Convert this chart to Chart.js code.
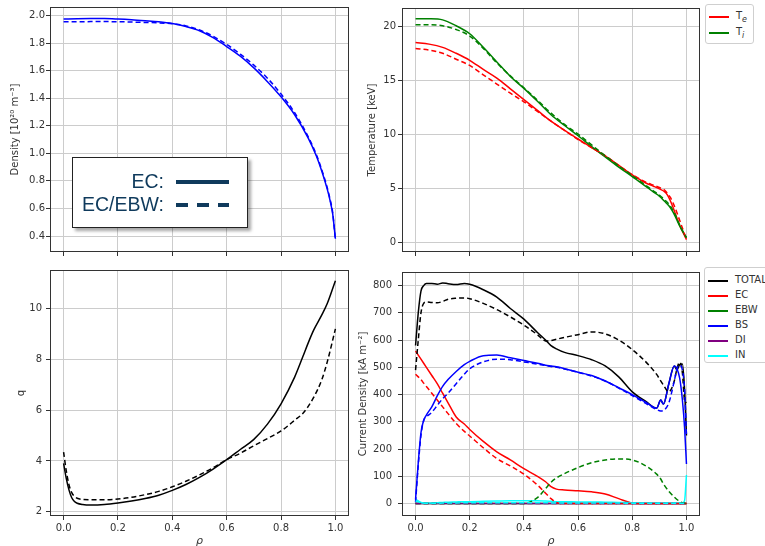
<!DOCTYPE html>
<html>
<head>
<meta charset="utf-8">
<script src="https://cdn.jsdelivr.net/npm/chart.js@4.4.1/dist/chart.umd.min.js"></script>
<style>
  html, body { margin: 0; padding: 0; background: #fff; overflow: hidden; width: 765px; height: 546px; }
  canvas { position: absolute; }
  .lg { position: absolute; background: #fff; border: 1px solid #cfcfcf; border-radius: 3px; font-family: "DejaVu Sans", sans-serif; font-size: 10px; color: #333; }
  .lg .row { position: absolute; left: 0; height: 12px; }
  .lg .sw { position: absolute; left: 3px; width: 20px; top: 5px; height: 0; border-top: 2px solid #000; }
  .lg .tx { position: absolute; left: 30px; top: -1px; white-space: nowrap; line-height: 12px; }
  #ecbox { position: absolute; left: 72px; top: 157px; width: 174px; height: 69px; background: #fff; border: 1.5px solid #222; box-shadow: 3px 3px 3px rgba(0,0,0,0.35); font-family: "Liberation Sans", Arial, sans-serif; font-size: 19.5px; color: #0f3a5c; }
  #ecbox .t { position: absolute; left: 0; width: 91px; text-align: right; line-height: 20px; }
  #ecbox .l { position: absolute; left: 103px; width: 53px; height: 3.5px; }
</style>
</head>
<body>
<canvas id="cTL" width="360" height="262" style="left:0px;top:0px"></canvas>
<canvas id="cTR" width="405" height="262" style="left:360px;top:0px"></canvas>
<canvas id="cBL" width="360" height="286" style="left:0px;top:260px"></canvas>
<canvas id="cBR" width="415" height="286" style="left:350px;top:260px"></canvas>

<div id="ecbox">
  <div class="t" style="top:13px">EC:</div>
  <div class="l" style="top:22px;background:#0f3a5c"></div>
  <div class="t" style="top:36px">EC/EBW:</div>
  <div class="l" style="top:45px;background:repeating-linear-gradient(to right,#0f3a5c 0px,#0f3a5c 11.5px,transparent 11.5px,transparent 21px)"></div>
</div>

<div class="lg" style="left:705px;top:4px;width:47px;height:38px">
  <div class="row" style="top:6px"><div class="sw" style="border-color:#ff0000"></div><div class="tx">T<sub style="font-size:8px"><i>e</i></sub></div></div>
  <div class="row" style="top:22px"><div class="sw" style="border-color:#008000"></div><div class="tx">T<sub style="font-size:8px"><i>i</i></sub></div></div>
</div>

<div class="lg" style="left:704px;top:267px;width:80px;height:94px">
  <div class="row" style="top:7px"><div class="sw" style="border-color:#000"></div><div class="tx">TOTAL</div></div>
  <div class="row" style="top:22px"><div class="sw" style="border-color:#ff0000"></div><div class="tx">EC</div></div>
  <div class="row" style="top:37px"><div class="sw" style="border-color:#008000"></div><div class="tx">EBW</div></div>
  <div class="row" style="top:52px"><div class="sw" style="border-color:#0000ff"></div><div class="tx">BS</div></div>
  <div class="row" style="top:67px"><div class="sw" style="border-color:#800080"></div><div class="tx">DI</div></div>
  <div class="row" style="top:82px"><div class="sw" style="border-color:#00ffff"></div><div class="tx">IN</div></div>
</div>

<script>
// ---------- tick labels ----------
const rhoTicks = [0.0, 0.2, 0.4, 0.6, 0.8, 1.0];
const densityTicks = [0.4, 0.6, 0.8, 1.0, 1.2, 1.4, 1.6, 1.8, 2.0];
const tempTicks = [0, 5, 10, 15, 20];
const qTicks = [2, 4, 6, 8, 10];
const currentTicks = [0, 100, 200, 300, 400, 500, 600, 700, 800];

// ---------- density ----------
const rhoN = [0, 0.05, 0.1, 0.15, 0.2, 0.25, 0.3, 0.35, 0.4, 0.45, 0.5, 0.55, 0.6, 0.65, 0.7, 0.75, 0.8, 0.85, 0.9, 0.93, 0.95, 0.97, 0.98, 0.99, 1.0];
const neEC  = [1.975, 1.977, 1.978, 1.978, 1.975, 1.970, 1.963, 1.955, 1.942, 1.920, 1.890, 1.840, 1.775, 1.705, 1.620, 1.520, 1.410, 1.280, 1.110, 0.980, 0.870, 0.740, 0.660, 0.560, 0.380];
const neEBW = [1.955, 1.955, 1.956, 1.956, 1.955, 1.953, 1.950, 1.947, 1.940, 1.925, 1.895, 1.850, 1.790, 1.720, 1.640, 1.545, 1.430, 1.295, 1.120, 0.990, 0.880, 0.750, 0.670, 0.570, 0.370];

// ---------- temperature ----------
const rhoT = [0, 0.05, 0.1, 0.15, 0.2, 0.25, 0.3, 0.35, 0.4, 0.45, 0.5, 0.55, 0.6, 0.65, 0.7, 0.75, 0.8, 0.85, 0.88, 0.9, 0.92, 0.93, 0.94, 0.95, 0.96, 0.97, 0.98, 0.99, 1.0];
const teEC  = [18.55, 18.40, 18.10, 17.55, 16.90, 16.05, 15.25, 14.25, 13.25, 12.25, 11.25, 10.40, 9.60, 8.80, 8.03, 7.15, 6.27, 5.52, 5.20, 4.97, 4.70, 4.40, 3.90, 3.30, 2.60, 1.90, 1.30, 0.80, 0.27];
const teEBW = [18.00, 17.85, 17.55, 17.00, 16.42, 15.55, 14.70, 13.85, 13.05, 12.15, 11.25, 10.40, 9.55, 8.80, 8.05, 7.15, 6.30, 5.60, 5.30, 5.10, 4.85, 4.55, 4.20, 3.70, 3.10, 2.40, 1.70, 1.00, 0.30];
const tiEC  = [20.76, 20.75, 20.65, 20.10, 19.36, 18.10, 16.75, 15.40, 14.30, 13.10, 11.85, 10.85, 9.90, 8.90, 7.94, 7.00, 6.12, 5.20, 4.65, 4.30, 3.80, 3.55, 3.25, 2.85, 2.35, 1.80, 1.30, 0.85, 0.45];
const tiEBW = [20.20, 20.20, 20.10, 19.75, 19.15, 18.00, 16.65, 15.45, 14.35, 13.20, 12.00, 10.95, 10.05, 9.05, 8.05, 7.10, 6.20, 5.30, 4.75, 4.40, 3.95, 3.70, 3.40, 3.00, 2.50, 1.90, 1.35, 0.90, 0.45];

// ---------- safety factor q ----------
const rhoQ = [0, 0.01, 0.02, 0.03, 0.04, 0.05, 0.07, 0.1, 0.15, 0.2, 0.25, 0.3, 0.35, 0.4, 0.45, 0.5, 0.55, 0.6, 0.65, 0.7, 0.75, 0.8, 0.85, 0.88, 0.9, 0.92, 0.95, 0.97, 1.0];
const qEC  = [3.90, 3.30, 2.85, 2.55, 2.40, 2.33, 2.28, 2.26, 2.28, 2.34, 2.42, 2.52, 2.65, 2.84, 3.07, 3.35, 3.68, 4.05, 4.45, 4.85, 5.45, 6.25, 7.30, 8.10, 8.65, 9.15, 9.75, 10.20, 11.10];
const qEBW = [4.35, 3.60, 3.05, 2.75, 2.60, 2.53, 2.48, 2.47, 2.47, 2.50, 2.57, 2.67, 2.80, 2.98, 3.20, 3.45, 3.73, 4.05, 4.30, 4.60, 4.88, 5.18, 5.60, 5.87, 6.15, 6.50, 7.20, 7.90, 9.20];

// ---------- current density ----------
const rhoJ = [0, 0.01, 0.02, 0.03, 0.04, 0.06, 0.08, 0.1, 0.12, 0.15, 0.18, 0.2, 0.25, 0.3, 0.35, 0.4, 0.45, 0.48, 0.5, 0.52, 0.55, 0.6, 0.65, 0.7, 0.75, 0.8, 0.85, 0.89, 0.905, 0.915, 0.935, 0.955, 0.965, 0.975, 0.985, 0.993, 1.0];
const totalEC  = [580, 700, 780, 800, 808, 808, 805, 810, 807, 804, 808, 805, 785, 758, 716, 677, 628, 600, 580, 568, 555, 543, 528, 505, 465, 410, 375, 350, 380, 365, 440, 505, 490, 510, 512, 420, 250];
const totalEBW = [490, 600, 700, 735, 740, 738, 737, 742, 750, 754, 755, 752, 735, 712, 685, 655, 620, 597, 598, 603, 610, 620, 630, 623, 600, 565, 520, 474, 450, 435, 410, 450, 495, 519, 480, 379, 370];
const ecEC     = [560, 545, 530, 515, 500, 470, 440, 405, 370, 318, 292, 272, 228, 190, 160, 128, 100, 80, 62, 53, 50, 47, 43, 35, 18, 2, 0, 0, 0, 0, 0, 0, 0, 0, 0, 0, 0];
const ecEBW    = [475, 465, 455, 442, 430, 405, 380, 355, 330, 294, 265, 248, 205, 165, 138, 108, 68, 38, 18, 4, 0, 0, 0, 0, 0, 0, 0, 0, 0, 0, 0, 0, 0, 0, 0, 0, 0];
const ebwEC    = [0, 0, 0, 0, 0, 0, 0, 0, 0, 0, 0, 0, 0, 0, 0, 0, 0, 0, 0, 0, 0, 0, 0, 0, 0, 0, 0, 0, 0, 0, 0, 0, 0, 0, 0, 0, 0];
const ebwEBW   = [0, 0, 0, 0, 0, 0, 0, 0, 0, 0, 0, 0, 0, 0, 0, 0, 22, 55, 78, 94, 110, 132, 150, 160, 164, 160, 138, 108, 90, 72, 45, 24, 15, 8, 3, 1, 0];
const bsEC     = [15, 150, 260, 305, 325, 355, 395, 430, 455, 485, 510, 522, 543, 545, 535, 525, 515, 508, 505, 502, 495, 482, 470, 450, 425, 400, 372, 350, 380, 365, 440, 505, 495, 460, 380, 280, 145];
const bsEBW    = [5, 140, 250, 305, 318, 335, 360, 385, 405, 440, 475, 495, 520, 530, 528, 520, 512, 507, 503, 500, 494, 482, 468, 450, 424, 396, 368, 345, 340, 342, 370, 450, 495, 508, 490, 420, 250];
const diEC     = [0, 0, 0, 0, 0, 0, 0, 0, 0, 0, 0, 0, 0, 0, 0, 0, 0, 0, 0, 0, 0, 0, 0, 0, 0, 0, 0, 0, 0, 0, 0, 0, 0, 0, 0, 0, 0];
const diEBW    = [0, 0, 0, 0, 0, 0, 0, 0, 0, 0, 0, 0, 0, 0, 0, 0, 0, 0, 0, 0, 0, 0, 0, 0, 0, 0, 0, 0, 0, 0, 0, 0, 0, 0, 0, 0, 0];
const inEC     = [15, 10, 4, 2, 2, 2, 3, 4, 5, 6, 7, 7, 8, 9, 10, 10, 10, 9, 8, 7, 7, 6, 6, 5, 4, 3, 2, 2, 2, 2, 2, 2, 2, 2, 2, 10, 105];
const inEBW    = [10, 6, 3, 1, 1, 1, 1, 2, 2, 2, 3, 3, 3, 3, 3, 3, 3, 3, 2, 2, 2, 2, 2, 2, 2, 1, 1, 1, 1, 1, 1, 1, 1, 1, 1, 2, 5];

// ---------- helpers ----------
const TICK_FONT = { family: "DejaVu Sans", size: 10 };
const TXT = '#333';
const GRID = '#cccccc';

const framePlugin = {
  id: 'frame',
  afterDatasetsDraw(chart) {
    const a = chart.chartArea, ctx = chart.ctx;
    ctx.save();
    ctx.strokeStyle = '#333';
    ctx.lineWidth = 1;
    ctx.strokeRect(Math.round(a.left) + 0.5, Math.round(a.top) + 0.5, Math.round(a.right - a.left) - 1, Math.round(a.bottom - a.top) - 1);
    ctx.restore();
  }
};

function pts(xs, ys) { return xs.map((x, i) => ({ x: x, y: ys[i] })); }
function ds(xs, ys, color, dashed) {
  return { data: pts(xs, ys), borderColor: color, backgroundColor: color, borderWidth: 1.5,
           borderDash: dashed ? [5, 3] : [], pointRadius: 0, showLine: true,
           cubicInterpolationMode: 'monotone', fill: false };
}

function makeChart(id, cfg) {
  const xScale = {
    type: 'linear', min: -0.05, max: 1.05,
    afterBuildTicks: s => { s.ticks = rhoTicks.map(v => ({ value: v })); },
    afterFit: s => { s.height = cfg.xHeight; },
    grid: { color: GRID, lineWidth: 1, tickLength: 4, tickColor: '#333', drawTicks: true },
    border: { display: false },
    ticks: { display: cfg.showX, font: TICK_FONT, color: TXT, padding: 2, maxRotation: 0,
             callback: v => Number(v).toFixed(1) },
    title: { display: cfg.showX, text: 'ρ', color: TXT, font: { family: "DejaVu Sans", size: 11, style: 'italic' },
             padding: { top: 0, bottom: -2 } }
  };
  const yScale = {
    type: 'linear', min: cfg.ymin, max: cfg.ymax,
    afterBuildTicks: s => { s.ticks = cfg.yTicks.map(v => ({ value: v })); },
    afterFit: s => { s.width = cfg.yWidth; },
    grid: { color: GRID, lineWidth: 1, tickLength: 4, tickColor: '#333' },
    border: { display: false },
    ticks: { font: TICK_FONT, color: TXT, padding: cfg.yPad, callback: cfg.yFmt },
    title: { display: true, text: cfg.yTitle, color: TXT, font: { family: "DejaVu Sans", size: 10 },
             padding: { top: cfg.yTitlePad, bottom: 0 } }
  };
  return new Chart(document.getElementById(id), {
    type: 'scatter',
    data: { datasets: cfg.datasets },
    options: {
      responsive: false, animation: false, devicePixelRatio: 1,
      layout: { padding: cfg.padding },
      plugins: { legend: { display: false }, tooltip: { enabled: false } },
      scales: { x: xScale, y: yScale }
    },
    plugins: [framePlugin]
  });
}

// Chart.js draws the first dataset on top, so lists are in reverse plotting order.
makeChart('cTL', {
  padding: { left: 0, right: 11, top: 3, bottom: 0 }, yWidth: 50, xHeight: 10, showX: false,
  ymin: 0.284, ymax: 2.062, yTicks: densityTicks, yFmt: v => Number(v).toFixed(1), yPad: 1,
  yTitle: 'Density [10²⁰ m⁻³]', yTitlePad: 9,
  datasets: [ ds(rhoN, neEBW, '#0000ff', true), ds(rhoN, neEC, '#0000ff', false) ]
});

makeChart('cTR', {
  padding: { left: 0, right: 65, top: 3, bottom: 0 }, yWidth: 42, xHeight: 10, showX: false,
  ymin: -0.88, ymax: 21.75, yTicks: tempTicks, yFmt: v => String(v), yPad: 2,
  yTitle: 'Temperature [keV]', yTitlePad: 6,
  datasets: [ ds(rhoT, tiEBW, '#008000', true), ds(rhoT, teEBW, '#ff0000', true),
              ds(rhoT, tiEC, '#008000', false), ds(rhoT, teEC, '#ff0000', false) ]
});

makeChart('cBL', {
  padding: { left: 0, right: 11, top: 7, bottom: 0 }, yWidth: 50, xHeight: 30, showX: true,
  ymin: 1.83, ymax: 11.52, yTicks: qTicks, yFmt: v => String(v), yPad: 4,
  yTitle: 'q', yTitlePad: 15,
  datasets: [ ds(rhoQ, qEBW, '#000000', true), ds(rhoQ, qEC, '#000000', false) ]
});

makeChart('cBR', {
  padding: { left: 0, right: 65, top: 7, bottom: 0 }, yWidth: 52, xHeight: 30, showX: true,
  ymin: -45.7, ymax: 850, yTicks: currentTicks, yFmt: v => String(v), yPad: 6,
  yTitle: 'Current Density [kA m⁻²]', yTitlePad: 7,
  datasets: [
    ds(rhoJ, inEBW, '#00ffff', true), ds(rhoJ, diEBW, '#800080', true),
    ds(rhoJ, bsEBW, '#0000ff', true), ds(rhoJ, ebwEBW, '#008000', true),
    ds(rhoJ, ecEBW, '#ff0000', true), ds(rhoJ, totalEBW, '#000000', true),
    ds(rhoJ, inEC, '#00ffff', false), ds(rhoJ, diEC, '#800080', false),
    ds(rhoJ, bsEC, '#0000ff', false), ds(rhoJ, ebwEC, '#008000', false),
    ds(rhoJ, ecEC, '#ff0000', false), ds(rhoJ, totalEC, '#000000', false)
  ]
});
</script>
</body>
</html>
